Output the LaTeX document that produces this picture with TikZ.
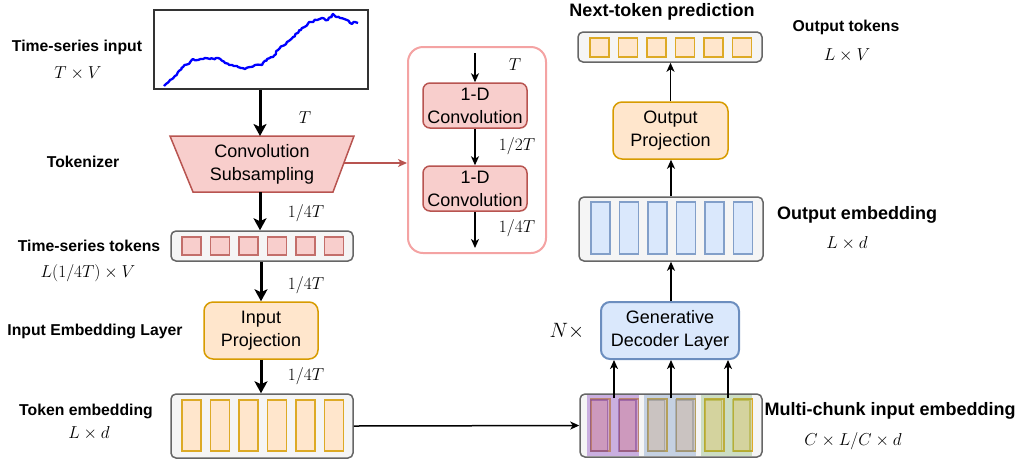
\documentclass[tikz,border=0pt]{standalone}
\usepackage{fontspec}
\setmainfont{Liberation Sans}
\usetikzlibrary{arrows.meta,decorations.pathmorphing}
\definecolor{redfill}{HTML}{F8CECC}
\definecolor{redline}{HTML}{B85450}
\definecolor{orfill}{HTML}{FFE6CC}
\definecolor{orline}{HTML}{D79B00}
\definecolor{blfill}{HTML}{DAE8FC}
\definecolor{blline}{HTML}{6C8EBF}
\definecolor{grfill}{HTML}{F5F5F5}
\definecolor{grline}{HTML}{666666}
\definecolor{pinkline}{HTML}{F4A3A3}
\tikzset{
  lbl/.style={font=\fontsize{15.75}{18}\selectfont\bfseries},
  biglbl/.style={font=\fontsize{18}{21}\selectfont\bfseries},
  mlbl/.style={font=\fontsize{16.5}{18}\selectfont},
  boxtxt/.style={font=\fontsize{18}{23}\selectfont, align=center},
  container/.style={draw=grline, fill=grfill, line width=1.5, rounded corners=5, inner sep=0},
  redsq/.style={draw=redline!85, fill=redfill, line width=1.2, minimum width=19, minimum height=18, inner sep=0},
  orsq/.style={draw=orline!85, fill=orfill, line width=1.2, minimum width=19, minimum height=19, inner sep=0},
  orbar/.style={draw=orline!85, fill=orfill, line width=1.2, minimum width=19, minimum height=51, inner sep=0},
  blbar/.style={draw=blline!85, fill=blfill, line width=1.2, minimum width=19, minimum height=52, inner sep=0},
  orbox/.style={draw=orline, fill=orfill, line width=1.5, rounded corners=9, boxtxt, inner sep=0},
  redbox/.style={draw=redline, fill=redfill, line width=1.5, rounded corners=7, boxtxt, inner sep=0},
  blbox/.style={draw=blline, fill=blfill, line width=2, rounded corners=9, boxtxt, inner sep=0},
  thickarr/.style={line width=3, -{Stealth[length=12,width=13,inset=3]}},
  thinarr/.style={line width=1.5, -{Stealth[length=9,width=8,inset=2.5]}},
}
\begin{document}
\begin{tikzpicture}[x=1pt,y=-1pt]
\useasboundingbox (0,0) rectangle (1019,459);
% ---------- left column ----------
\node[draw={rgb,255:red,51;green,51;blue,51}, line width=1.5, minimum width=214, minimum height=79, inner sep=0] (plot) at (261,49.5) {};
\pgfmathsetseed{11}
\draw[blue, line width=2.3, line join=round, decorate, decoration={random steps, segment length=2.2, amplitude=1.0}]
  (164,86) -- (170,80) -- (176.7,75) -- (183,67) -- (190,62.3) -- (193,59) -- (198,60) -- (205,58) -- (210,59) -- (218,58) -- (225,63) -- (232,65) -- (238,67) -- (245,69) -- (250,67) -- (255,65) -- (262,65) -- (267,59) -- (273,57) -- (278,50) -- (287,42) -- (293,37) -- (302,28) -- (310,22) -- (317,20) -- (322,18) -- (328,20) -- (333,14) -- (340,18) -- (347,20) -- (352,24) -- (355,22) -- (358,23);
\node[lbl] (lin) at (77,47) {Time-series input};
\node[mlbl] (lins) at (78,73) {$T\times V$};

% tokenizer trapezoid
\filldraw[fill=redfill, draw=redline, line width=1.5] (170,136) -- (354,136) -- (333,192) -- (193,192) -- cycle;
\coordinate (convtop) at (260,136);
\coordinate (convbot) at (260,192);
\coordinate (convright) at (344,163);
\node[boxtxt] (conv) at (262,164) {Convolution\\Subsampling};
\node[lbl] (ltok) at (83,162) {Tokenizer};
\draw[thickarr] (plot.south -| convtop) -- (convtop);
\node[mlbl] (t1) at (305,118) {$T$};

% time-series tokens
\node[container, minimum width=182, minimum height=30] (tsbox) at (262,246) {};
\foreach \i [count=\k] in {191.5,220,248.5,277,305.5,334} {
  \node[redsq] (ts\k) at (\i,246) {};
}
\node[lbl] (lts) at (89,246) {Time-series tokens};
\node[mlbl] (ltss) at (88,273) {$L(1/4T)\times V$};
\draw[thickarr] (convbot) -- (convbot |- tsbox.north);
\node[mlbl] (t2) at (306,213) {$1/4T$};

% input projection
\node[orbox, minimum width=114, minimum height=57] (inproj) at (261,330.5) {Input\\Projection};
\node[lbl] (lie) at (95,331) {Input Embedding Layer};
\draw[thickarr] (tsbox.south -| inproj.north) -- (inproj.north);
\node[mlbl] (t3) at (306,285) {$1/4T$};

% token embedding
\node[container, minimum width=182, minimum height=64] (temb) at (262,426) {};
\foreach \i [count=\k] in {191.5,220,248.5,277,305.5,334} {
  \node[orbar] (te\k) at (\i,425.5) {};
}
\node[lbl] (lte) at (86,411) {Token embedding};
\node[mlbl] (ltes) at (89,433) {$L\times d$};
\draw[thickarr] (inproj.south) -- (inproj.south |- temb.north);
\node[mlbl] (t4) at (306,376) {$1/4T$};

% ---------- convolution detail ----------
\node[draw=pinkline, fill=white, line width=2, rounded corners=15, minimum width=138, minimum height=206, inner sep=0] (detail) at (477,150) {};
\draw[line width=1.5, draw=redline, -{Stealth[length=9,width=8,inset=2.5]}] (convright) -- (detail.west |- convright);
\coordinate (dtop) at (475,53);
\coordinate (dbot) at (475,248);
\node[redbox, minimum width=104, minimum height=45] (conv1) at (475,105.5) {1-D\\Convolution};
\node[redbox, minimum width=104, minimum height=45] (conv2) at (475,188.5) {1-D\\Convolution};
\draw[thinarr] (dtop) -- (conv1.north);
\draw[thinarr] (conv1.south) -- (conv2.north);
\draw[thinarr] (conv2.south) -- (dbot);
\node[mlbl] (d1) at (515,65) {$T$};
\node[mlbl] (d2) at (517,146) {$1/2T$};
\node[mlbl] (d3) at (517,228) {$1/4T$};

% ---------- right column ----------
\node[biglbl] (lnt) at (662,12) {Next-token prediction};
\node[container, minimum width=184, minimum height=30] (otok) at (670,47) {};
\foreach \i [count=\k] in {599.5,628,656.5,685,713.5,742} {
  \node[orsq] (ot\k) at (\i,47.5) {};
}
\node[lbl] (lot) at (846,27) {Output tokens};
\node[mlbl] (lots) at (847,55) {$L\times V$};

\node[orbox, minimum width=115, minimum height=57] (outproj) at (670.5,130.5) {Output\\Projection};

\node[container, minimum width=184, minimum height=64] (oemb) at (671,229) {};
\foreach \i [count=\k] in {600.5,629,657.5,686,714.5,743} {
  \node[blbar] (oe\k) at (\i,228) {};
}
\node[biglbl] (loe) at (857,215) {Output embedding};
\node[mlbl] (loes) at (847,243) {$L\times d$};

\node[blbox, minimum width=138, minimum height=57] (dec) at (670,330.5) {Generative\\Decoder Layer};
\node[font=\fontsize{22}{24}\selectfont] (nx) at (567,331) {$N\times$};

% multi-chunk
\node[container, minimum width=182, minimum height=63] (multi) at (671,425.5) {};
\foreach \i [count=\k] in {600.5,629,657.5,686,714.5,743} {
  \node[orbar, minimum height=52] (me\k) at (\i,425) {};
}
\fill[fill={rgb,255:red,150;green,90;blue,200}, fill opacity=0.45] (587,395) rectangle (639,456);
\fill[fill={rgb,255:red,108;green,142;blue,191}, fill opacity=0.35] (644,395) rectangle (696,456);
\fill[fill={rgb,255:red,130;green,179;blue,102}, fill opacity=0.35] (701,395) rectangle (752,456);
\foreach \i in {599,627.5} {
  \draw[draw={rgb,255:red,120;green,60;blue,150}, line width=1.5, draw opacity=0.5, fill={rgb,255:red,200;green,80;blue,120}, fill opacity=0.15] (\i-8.5,400) rectangle (\i+8.5,451);
}
\foreach \i in {656,684.5} {
  \draw[draw={rgb,255:red,140;green,140;blue,140}, line width=1.5, draw opacity=0.5, fill={rgb,255:red,200;green,180;blue,170}, fill opacity=0.2] (\i-8.5,400) rectangle (\i+8.5,451);
}
\foreach \i in {713,741.5} {
  \draw[draw={rgb,255:red,170;green,170;blue,40}, line width=1.5, draw opacity=0.5, fill={rgb,255:red,220;green,210;blue,120}, fill opacity=0.2] (\i-8.5,400) rectangle (\i+8.5,451);
}
\node[biglbl] (lmc) at (890,411) {Multi-chunk input embedding};
\node[mlbl] (lmcs) at (853,441) {$C\times L/C\times d$};

% connectors right
\draw[line width=1.5, -{Stealth[length=9,width=8,inset=2.5]}] (temb.east) -- (multi.west);
\coordinate (c1) at (614,398);
\coordinate (c2) at (671,398);
\coordinate (c3) at (728,398);
\draw[thinarr] (c1) -- (c1 |- dec.south);
\draw[thinarr] (c2) -- (c2 |- dec.south);
\draw[thinarr] (c3) -- (c3 |- dec.south);
\draw[thinarr] (dec.north -| oemb.south) -- (oemb.south);
\draw[thinarr] (oemb.north) -- (oemb.north |- outproj.south);
\draw[thinarr] (outproj.north) -- (outproj.north |- otok.south);
\end{tikzpicture}
\end{document}
